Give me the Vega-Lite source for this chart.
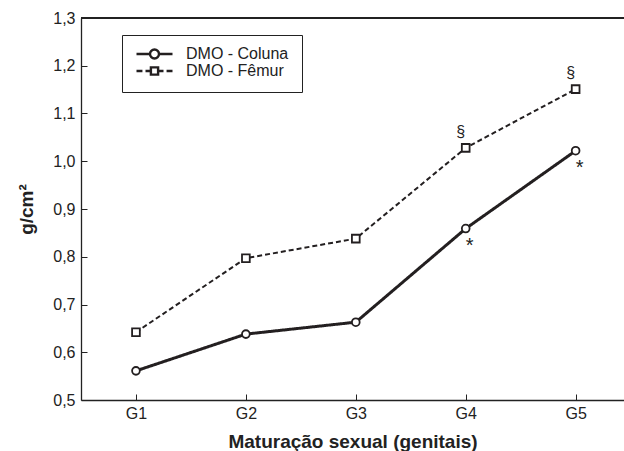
{
  "$schema": "https://vega.github.io/schema/vega-lite/v6.json",
  "width": 543,
  "height": 382,
  "autosize": {"type": "none"},
  "padding": {"left": 81, "top": 18, "right": 0, "bottom": 51},
  "background": "white",
  "config": {
    "view": {"stroke": null},
    "font": "Liberation Sans",
    "axis": {"domainColor": "#222", "tickColor": "#222", "labelColor": "#222", "titleColor": "#222", "grid": false, "labelFont": "Liberation Sans", "titleFont": "Liberation Sans"},
    "legend": {"labelFont": "Liberation Sans", "labelFontSize": 16, "labelColor": "#222"}
  },
  "data": {
    "values": [
      {"s": "DMO - Coluna", "g": 1, "v": 0.561, "sig": ""},
      {"s": "DMO - Coluna", "g": 2, "v": 0.638, "sig": ""},
      {"s": "DMO - Coluna", "g": 3, "v": 0.663, "sig": ""},
      {"s": "DMO - Coluna", "g": 4, "v": 0.859, "sig": "*"},
      {"s": "DMO - Coluna", "g": 5, "v": 1.022, "sig": "*"},
      {"s": "DMO - Fêmur", "g": 1, "v": 0.642, "sig": ""},
      {"s": "DMO - Fêmur", "g": 2, "v": 0.797, "sig": ""},
      {"s": "DMO - Fêmur", "g": 3, "v": 0.838, "sig": ""},
      {"s": "DMO - Fêmur", "g": 4, "v": 1.028, "sig": "§"},
      {"s": "DMO - Fêmur", "g": 5, "v": 1.151, "sig": "§"}
    ]
  },
  "encoding": {
    "x": {
      "field": "g", "type": "quantitative",
      "scale": {"domain": [0.5, 5.44], "nice": false, "zero": false},
      "axis": {
        "values": [1, 2, 3, 4, 5],
        "labelExpr": "'G' + datum.value",
        "title": "Maturação sexual (genitais)",
        "titleFontSize": 19, "titleFontWeight": "bold",
        "labelFontSize": 16, "labelPadding": 11,
        "tickSize": -6, "domainWidth": 1.3, "tickWidth": 1,
        "titlePadding": 11
      }
    },
    "y": {
      "field": "v", "type": "quantitative",
      "scale": {"domain": [0.5, 1.3], "nice": false, "zero": false},
      "axis": {
        "values": [0.5, 0.6, 0.7, 0.8, 0.9, 1.0, 1.1, 1.2, 1.3],
        "labelExpr": "replace(format(datum.value, '.1f'), '.', ',')",
        "title": "g/cm²",
        "titleFontSize": 19, "titleFontWeight": "bold",
        "labelFontSize": 16, "labelPadding": 12,
        "tickSize": -6, "domainWidth": 1.3, "tickWidth": 1,
        "titlePadding": 16
      }
    }
  },
  "resolve": {"scale": {"shape": "independent"}, "legend": {"shape": "independent"}},
  "layer": [
    {
      "mark": {"type": "rule", "color": "#222", "strokeWidth": 1.3},
      "encoding": {"y": {"datum": 1.3}, "x": {"datum": 0.5}, "x2": {"datum": 5.44}}
    },
    {
      "mark": {"type": "line", "color": "#231f20"},
      "encoding": {
        "strokeDash": {"field": "s", "type": "nominal", "scale": {"range": [[1, 0], [5, 3]]}, "legend": null},
        "strokeWidth": {"field": "s", "type": "nominal", "scale": {"range": [3, 2]}, "legend": null}
      }
    },
    {
      "mark": {"type": "point", "filled": true, "fill": "white", "stroke": "#231f20", "strokeWidth": 1.8, "size": 60, "opacity": 1},
      "encoding": {
        "shape": {"field": "s", "type": "nominal", "scale": {"range": ["circle", "square"]}, "legend": null}
      }
    },
    {
      "mark": {"type": "point", "filled": false, "opacity": 0, "size": 10},
      "encoding": {
        "shape": {
          "field": "s", "type": "nominal",
          "scale": {
            "domain": ["DMO - Coluna", "DMO - Fêmur"],
            "range": [
              "M-1,0H-0.25M0.25,0H1M0.25,0A0.25,0.25 0 1,1 -0.25,0A0.25,0.25 0 1,1 0.25,0",
              "M-1,0H-0.67M-0.5,0H-0.2M0.2,0H0.5M0.67,0H1M-0.2,-0.2H0.2V0.2H-0.2Z"
            ]
          },
          "legend": {
            "title": null, "orient": "none", "legendX": 41, "legendY": 17,
            "strokeColor": "#222", "fillColor": "white", "padding": 13,
            "labelFontSize": 16, "labelColor": "#222", "labelOffset": 12,
            "symbolSize": 1296, "clipHeight": 12, "rowPadding": 1,
            "symbolFillColor": "white", "symbolStrokeColor": "#231f20",
            "symbolStrokeWidth": 2.4, "symbolOpacity": 1
          }
        }
      }
    },
    {
      "transform": [{"filter": "datum.sig === '§'"}],
      "mark": {"type": "text", "dx": -5, "dy": -16, "fontSize": 16, "color": "#222"},
      "encoding": {"text": {"field": "sig"}}
    },
    {
      "transform": [{"filter": "datum.sig === '*'"}],
      "mark": {"type": "text", "dx": 4, "dy": 17, "fontSize": 20, "color": "#222"},
      "encoding": {"text": {"field": "sig"}}
    }
  ]
}
